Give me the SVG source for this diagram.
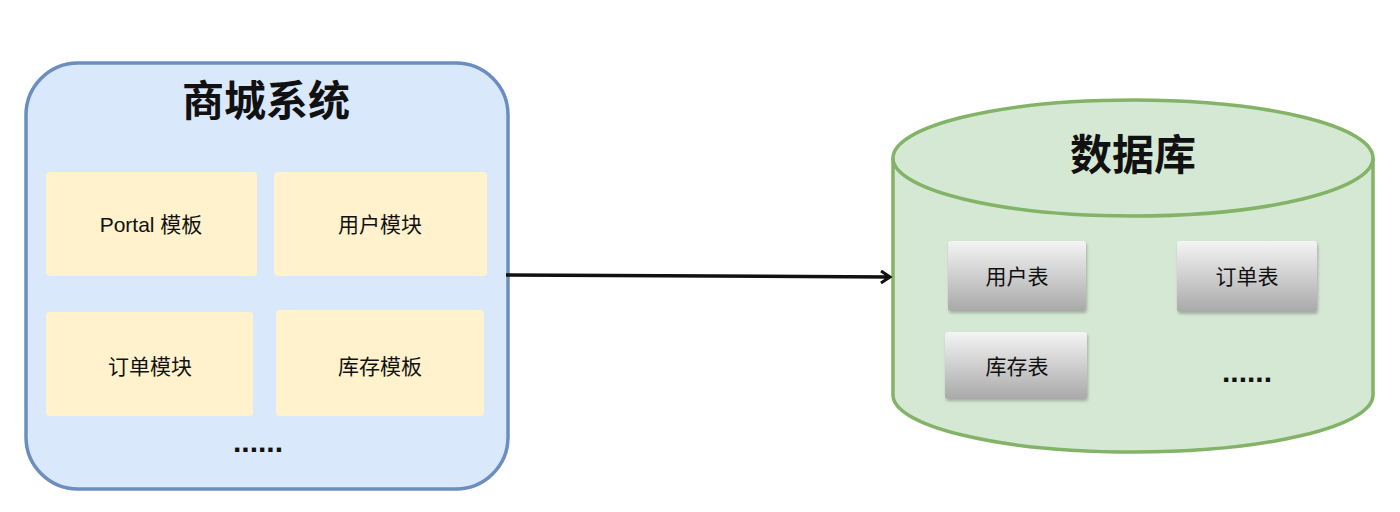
<svg xmlns="http://www.w3.org/2000/svg" width="1400" height="512" viewBox="0 0 1400 512">
<style>
.t{font-family:"Liberation Sans","Noto Sans CJK SC",sans-serif;fill:#111;text-anchor:middle}
.title{font-size:42px;font-weight:bold}
.lbl{font-size:21px}
.dots{font-size:30px;font-weight:bold}
.mod{fill:#fff2cc}
.tbl{fill:url(#g)}
</style>
<defs>
<linearGradient id="g" x1="0" y1="0" x2="0" y2="1">
<stop offset="0" stop-color="#f4f4f4"/>
<stop offset="1" stop-color="#a9a9a9"/>
</linearGradient>
<filter id="sh" x="-10%" y="-10%" width="130%" height="140%">
<feDropShadow dx="1" dy="2" stdDeviation="1.5" flood-color="#000" flood-opacity="0.25"/>
</filter>
<marker id="arr" markerWidth="14" markerHeight="14" refX="11" refY="7" orient="auto" markerUnits="userSpaceOnUse">
<path d="M2,1 L11,7 L2,13 M5,7 L11,7" fill="none" stroke="#111" stroke-width="3"/>
</marker>
</defs>
<g id="shop">
<rect x="26" y="63" width="482" height="426" rx="52" fill="#dae8fc" stroke="#6c8ebf" stroke-width="3.5"/>
<text class="t title" x="266" y="116">商城系统</text>
<g id="portal"><rect class="mod" x="46" y="172" width="211" height="104" rx="4"/><text class="t lbl" x="151" y="232">Portal 模板</text></g>
<g id="user"><rect class="mod" x="274" y="172" width="213" height="104" rx="4"/><text class="t lbl" x="380" y="232">用户模块</text></g>
<g id="order"><rect class="mod" x="46" y="312" width="207" height="104" rx="4"/><text class="t lbl" x="150" y="374">订单模块</text></g>
<g id="stock"><rect class="mod" x="276" y="310" width="208" height="106" rx="4"/><text class="t lbl" x="380" y="374">库存模板</text></g>
<text class="t dots" x="258" y="452">......</text>
</g>
<g id="db">
<path d="M893,158 L893,395 A240,57 0 0 0 1373,395 L1373,158" fill="#d5e8d4" stroke="#82b366" stroke-width="3.5"/>
<ellipse cx="1133" cy="158" rx="240" ry="58" fill="#d5e8d4" stroke="#82b366" stroke-width="3.5"/>
<text class="t title" x="1133" y="170">数据库</text>
<g id="t-user"><rect class="tbl" filter="url(#sh)" x="948" y="241" width="138" height="70" rx="3"/><text class="t lbl" x="1017" y="284">用户表</text></g>
<g id="t-order"><rect class="tbl" filter="url(#sh)" x="1177" y="241" width="140" height="71" rx="3"/><text class="t lbl" x="1247" y="284">订单表</text></g>
<g id="t-stock"><rect class="tbl" filter="url(#sh)" x="945" y="332" width="142" height="67" rx="3"/><text class="t lbl" x="1017" y="374">库存表</text></g>
<text class="t dots" x="1247" y="382">......</text>
</g>
<g id="connectors">
<path d="M506,275 L890,277" fill="none" stroke="#111" stroke-width="3.5" marker-end="url(#arr)"/>
</g>
</svg>
